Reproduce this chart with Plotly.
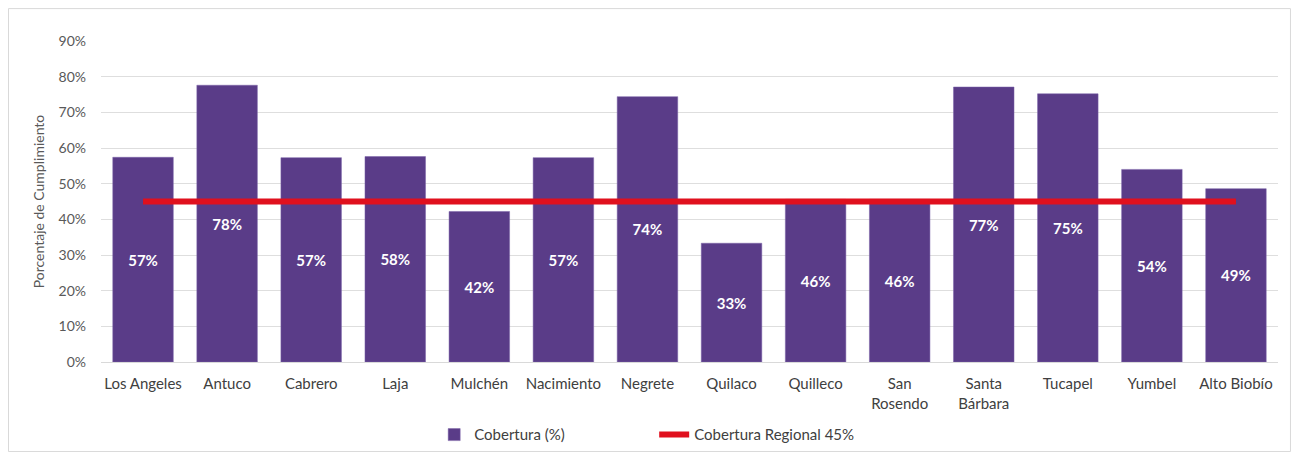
import plotly.graph_objects as go

categories = ["Los Angeles", "Antuco", "Cabrero", "Laja", "Mulchén", "Nacimiento", "Negrete",
              "Quilaco", "Quilleco", "San<br>Rosendo", "Santa<br>Bárbara", "Tucapel", "Yumbel", "Alto Biobío"]
cobertura = [0.574, 0.776, 0.573, 0.576, 0.422, 0.573, 0.744, 0.333, 0.456, 0.456, 0.771, 0.752, 0.540, 0.486]
regional = [0.45] * len(categories)
y_ticks = [0, 0.1, 0.2, 0.3, 0.4, 0.5, 0.6, 0.7, 0.8, 0.9]

FONT = "Lato"

fig = go.Figure()
fig.add_trace(go.Bar(
    x=categories, y=cobertura, name="Cobertura (%)",
    marker=dict(color="#5a3c88", line=dict(color="#7a62a8", width=0.5)),
    text=[f"{round(v*100)}%" for v in cobertura],
    textposition="inside", insidetextanchor="middle",
    textfont=dict(color="white", size=15, family=FONT, weight="bold"),
    textangle=0,
))
fig.add_trace(go.Scatter(
    x=categories, y=regional, name="Cobertura Regional 45%",
    mode="lines", line=dict(color="#e0101e", width=6),
))

fig.update_layout(
    width=1283, height=444,
    paper_bgcolor="white", plot_bgcolor="white",
    margin=dict(l=93, r=13, t=33, b=90, autoexpand=False),
    bargap=0.28,
    font=dict(family=FONT, color="#595959", size=14),
    showlegend=True,
    legend=dict(orientation="h", x=0.47, xanchor="center", y=-0.227, yanchor="middle",
                font=dict(size=15, color="#404040"), entrywidth=175, itemwidth=30),
    xaxis=dict(showgrid=False, showline=True, linecolor="#d9d9d9", ticks="",
               ticklabelstandoff=8, automargin=False,
               tickfont=dict(size=15, color="#404040")),
    yaxis=dict(range=[0, 0.9], tickvals=y_ticks, tickformat=".0%", showgrid=True,
               gridcolor="#dedede", zeroline=False, ticks="", ticklabelstandoff=14,
               automargin=False,
               tickfont=dict(size=14, color="#595959"),
               title=dict(text="Porcentaje de Cumplimiento", font=dict(size=14, color="#595959"), standoff=10)),
    shapes=[dict(type="rect", xref="paper", yref="paper", x0=-0.0786, x1=1.0106, y0=-0.279, y1=1.101,
                 line=dict(color="#d9d9d9", width=1), fillcolor="rgba(0,0,0,0)", layer="below")],
)

fig.write_html("out.html")
